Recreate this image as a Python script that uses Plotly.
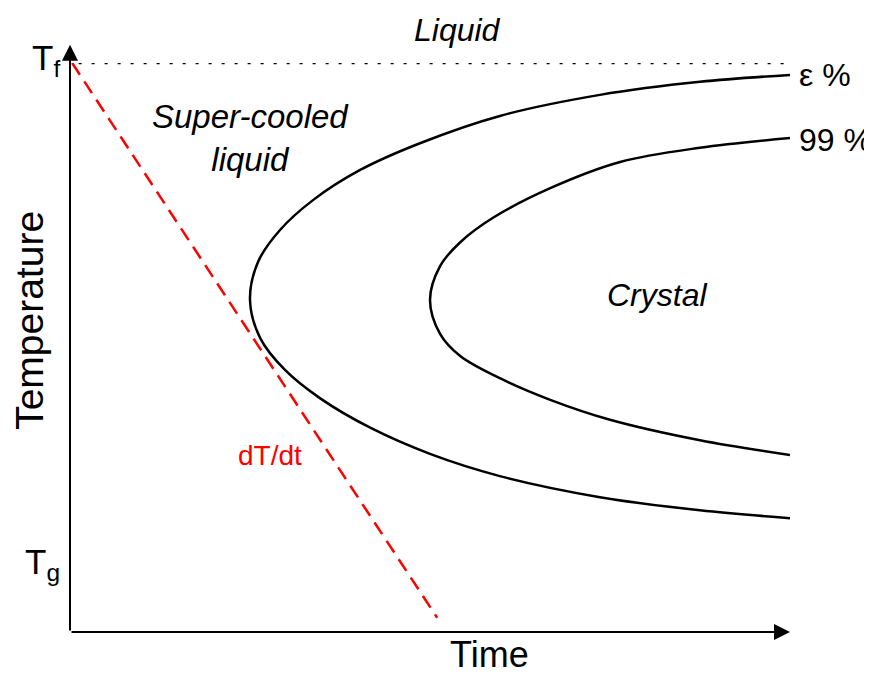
import plotly.graph_objects as go

# Normalised time (0..1) and temperature (0 at axis origin, 1 at Tf)
outer_time = [1.000, 0.875, 0.736, 0.597, 0.486, 0.403, 0.3375, 0.2917, 0.261, 0.250,
              0.264, 0.2986, 0.347, 0.417, 0.500, 0.597, 0.736, 0.875, 1.000]
outer_temp = [0.979, 0.967, 0.944, 0.907, 0.859, 0.812, 0.759, 0.7065, 0.650, 0.5835,
              0.517, 0.4605, 0.411, 0.359, 0.313, 0.274, 0.237, 0.214, 0.200]

inner_time = [1.000, 0.875, 0.764, 0.667, 0.5875, 0.542, 0.514, 0.500,
              0.514, 0.542, 0.597, 0.667, 0.750, 0.875, 1.000]
inner_temp = [0.868, 0.851, 0.826, 0.780, 0.728, 0.685, 0.643, 0.5835,
              0.524, 0.485, 0.446, 0.408, 0.373, 0.337, 0.311]

cool_time = [0.003, 0.510]
cool_temp = [1.0, 0.025]

tf_line_time = [0.012, 1.0]
tf_line_temp = [1.0, 1.0]

T_f = 1.0
T_g = 0.12

FONT = "Liberation Sans, Arial, sans-serif"

fig = go.Figure()
fig.add_trace(go.Scatter(x=tf_line_time, y=tf_line_temp, mode="lines",
                         line=dict(color="black", width=2.5, dash="3px,10px"), hoverinfo="skip"))
fig.add_trace(go.Scatter(x=outer_time, y=outer_temp, mode="lines",
                         line=dict(color="black", width=2.5, shape="spline", smoothing=1.0),
                         hoverinfo="skip"))
fig.add_trace(go.Scatter(x=inner_time, y=inner_temp, mode="lines",
                         line=dict(color="black", width=2.5, shape="spline", smoothing=1.0),
                         hoverinfo="skip"))
fig.add_trace(go.Scatter(x=cool_time, y=cool_temp, mode="lines",
                         line=dict(color="#ff0000", width=2.5, dash="14px,8px"),
                         hoverinfo="skip"))

PLOT_W = 720
PLOT_H = 569

ann = []
# axes with arrowheads (drawn as annotation arrows in paper coordinates)
ann.append(dict(x=0, y=1.032, xref="paper", yref="paper", ax=0, ay=1.032 * PLOT_H,
                showarrow=True, arrowhead=2, arrowsize=1.6, arrowwidth=2,
                arrowcolor="black", text=""))
ann.append(dict(x=1.0, y=0, xref="paper", yref="paper", ax=-PLOT_W, ay=0,
                showarrow=True, arrowhead=2, arrowsize=1.6, arrowwidth=2,
                arrowcolor="black", text=""))

def txt(x, y, s, size, color="black", italic=False, xanchor="center", yanchor="middle", angle=0):
    ann.append(dict(x=x, y=y, xref="paper", yref="paper", text=s, showarrow=False,
                    xanchor=xanchor, yanchor=yanchor, textangle=angle, align="center",
                    font=dict(family=FONT, size=size, color=color,
                              style="italic" if italic else "normal")))

txt(0.538, 1.058, "Liquid", 32, italic=True)
txt(0.25, 0.869, "Super-cooled<br>liquid", 33, italic=True)
txt(0.815, 0.592, "Crystal", 32, italic=True)
txt(1.01, 0.979, "ε %", 32, xanchor="left")
txt(1.01, 0.865, "99 %", 32, xanchor="left")
txt(0.278, 0.311, "dT/dt", 28, color="#ff0000")
txt(-0.056, 0.548, "Temperature", 39, angle=-90)
txt(0.583, -0.0404, "Time", 36)
txt(-0.011, T_f + 0.006, "T<sub>f</sub>", 35, xanchor="right")
txt(-0.011, T_g, "T<sub>g</sub>", 35, xanchor="right")

fig.update_layout(
    width=864, height=669,
    margin=dict(l=62, r=82, t=55, b=45),
    paper_bgcolor="white", plot_bgcolor="white",
    showlegend=False,
    annotations=ann,
    xaxis=dict(range=[0, 1], visible=False, fixedrange=True),
    yaxis=dict(range=[0, 1], visible=False, fixedrange=True),
)
for tr in fig.data:
    tr.cliponaxis = False

fig.write_html("out.html")
